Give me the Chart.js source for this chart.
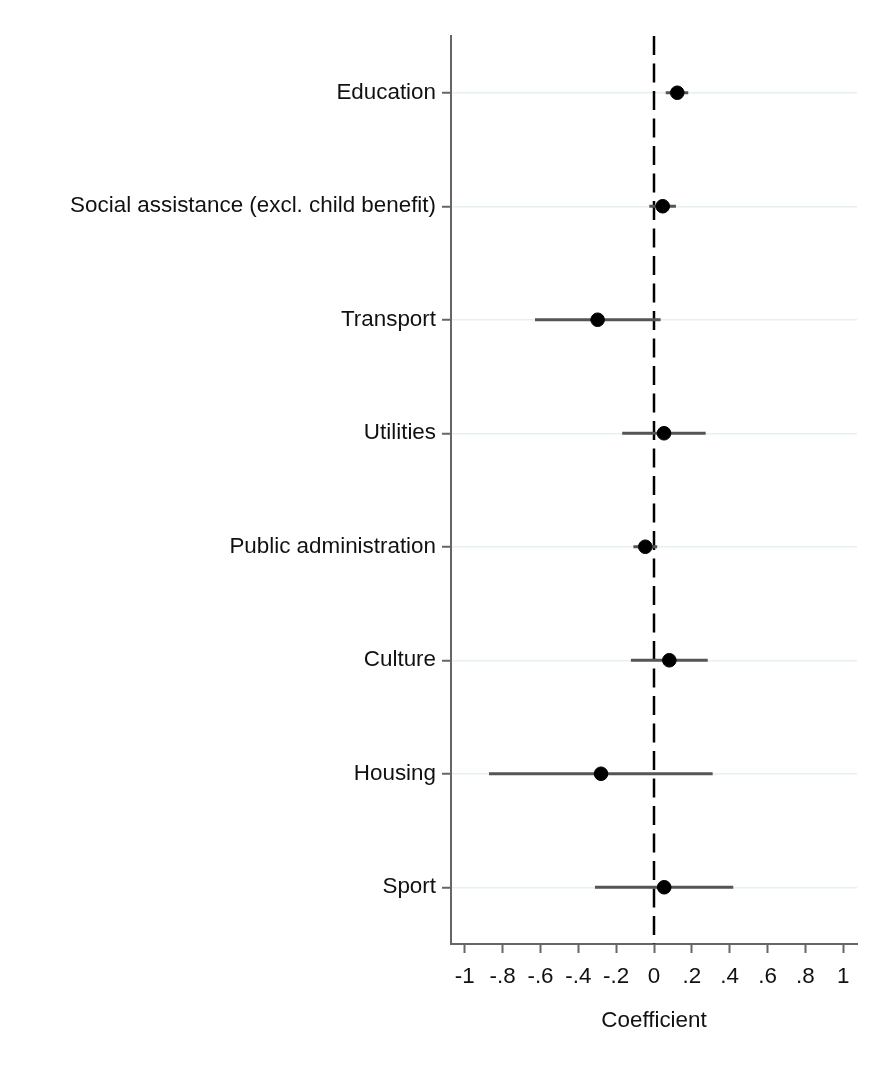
<!DOCTYPE html>
<html>
<head>
<meta charset="utf-8">
<script src="https://cdn.jsdelivr.net/npm/chart.js@4.4.0/dist/chart.umd.min.js"></script>
<style>
  html, body { margin: 0; padding: 0; background: #fff; }
  #wrap { width: 873px; height: 1086px; }
</style>
</head>
<body>
<div id="wrap"><canvas id="coefChart" width="873" height="1086"></canvas></div>
<script>
// Coefficient plot: point estimates with confidence intervals by spending category
const categories = [
  'Education',
  'Social assistance (excl. child benefit)',
  'Transport',
  'Utilities',
  'Public administration',
  'Culture',
  'Housing',
  'Sport'
];
const coef    = [0.123, 0.046, -0.298, 0.053, -0.046, 0.081, -0.280, 0.054];
const ciLow   = [0.062, -0.025, -0.629, -0.168, -0.109, -0.122, -0.872, -0.312];
const ciHigh  = [0.181, 0.116, 0.035, 0.273, 0.017, 0.284, 0.310, 0.419];
const xTicks  = [-1, -0.8, -0.6, -0.4, -0.2, 0, 0.2, 0.4, 0.6, 0.8, 1];
const refLine = 0;

const FONT = '"Liberation Sans", Arial, sans-serif';
const TEXT = '#111111';
const AXIS = '#666666';
const GRID = '#e6eff1';
const CI_COLOR = '#555555';

function fmtTick(v) {
  const r = Math.round(v * 10) / 10;
  if (r === 0) return '0';
  return String(r).replace(/^(-?)0\./, '$1.');
}

const pointData = coef.map((c, i) => ({ x: c, y: i + 1 }));

const ciSets = categories.map((_, i) => ({
  type: 'line',
  data: [{ x: ciLow[i], y: i + 1 }, { x: ciHigh[i], y: i + 1 }],
  borderColor: CI_COLOR,
  borderWidth: 3,
  pointRadius: 0,
  fill: false,
  order: 1
}));

new Chart(document.getElementById('coefChart').getContext('2d'), {
  type: 'scatter',
  data: {
    datasets: [
      {
        data: pointData,
        backgroundColor: '#000',
        borderColor: '#000',
        pointRadius: 6.8,
        pointHoverRadius: 6.8,
        order: 0
      },
      ...ciSets,
      {
        type: 'line',
        data: [{ x: refLine, y: 0.5 }, { x: refLine, y: 8.5 }],
        borderColor: '#000',
        borderWidth: 2.5,
        borderDash: [19, 8.5],
        pointRadius: 0,
        fill: false,
        order: 2
      }
    ]
  },
  options: {
    responsive: false,
    animation: false,
    layout: { padding: { top: 36, right: 16, left: 0, bottom: 0 } },
    plugins: { legend: { display: false }, tooltip: { enabled: false } },
    scales: {
      x: {
        type: 'linear',
        min: -1.073,
        max: 1.073,
        afterBuildTicks: scale => { scale.ticks = xTicks.map(v => ({ value: v })); },
        afterFit: scale => { scale.height = 142; },
        ticks: {
          callback: v => fmtTick(v),
          color: TEXT,
          font: { family: FONT, size: 22.4 },
          padding: 10,
          maxRotation: 0,
          autoSkip: false
        },
        grid: {
          drawOnChartArea: false,
          drawTicks: true,
          tickLength: 9,
          tickColor: AXIS,
          tickWidth: 2
        },
        border: { display: true, color: AXIS, width: 2 },
        title: {
          display: true,
          text: 'Coefficient',
          color: TEXT,
          font: { family: FONT, size: 22.4 },
          padding: { top: 0, bottom: 52 }
        }
      },
      y: {
        type: 'linear',
        reverse: true,
        min: 0.5,
        max: 8.5,
        afterBuildTicks: scale => { scale.ticks = categories.map((_, i) => ({ value: i + 1 })); },
        afterFit: scale => { scale.width = 451; },
        ticks: {
          callback: v => categories[v - 1] || '',
          color: TEXT,
          font: { family: FONT, size: 22.4 },
          padding: 6,
          autoSkip: false
        },
        grid: {
          color: GRID,
          lineWidth: 1.5,
          drawTicks: true,
          tickLength: 9,
          tickColor: AXIS,
          tickWidth: 2
        },
        border: { display: true, color: AXIS, width: 2 }
      }
    }
  }
});
</script>
</body>
</html>
